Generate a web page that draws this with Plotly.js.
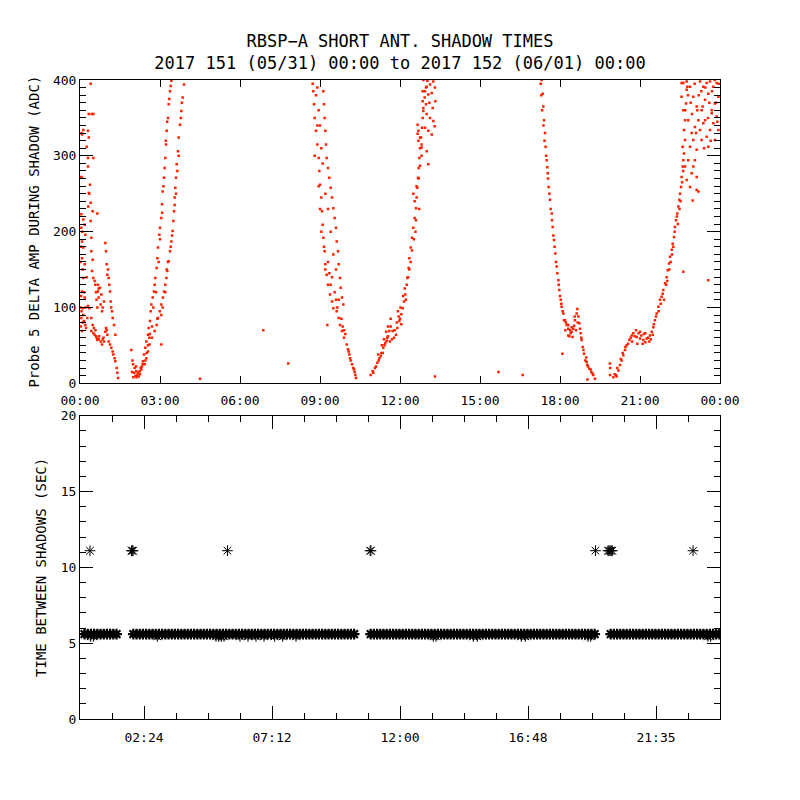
<!DOCTYPE html>
<html>
<head>
<meta charset="utf-8">
<script src="https://cdn.plot.ly/plotly-3.0.1.min.js"></script>
<style>html,body{margin:0;padding:0;background:#fff;}#chart{width:800px;height:800px;}</style>
</head>
<body>
<div id="chart"></div>
<script>
// ---- Top panel: Probe 5 delta amplitude during shadow, [hour of day, ADC] ----
const pass1 = [[0.4,395],[0.33,355],[0.5,355],[0.3,333],[0.33,324],[0.075,328],[0.3,297],[0.5,297],[0.3,286],[0.075,271],[0.375,262],[0.33,251],[0.4,238],[0.475,227],[0.65,224],[0.05,223],[0.125,216],[0.175,209],[0.4,214],[0.05,205],[0.2,196],[0.075,187],[0.125,179],[0.425,192],[0.425,174],[0.075,165],[0.175,157],[0.1,150],[0.475,163],[0.45,148],[0.5,139],[0.575,130],[0.675,121],[0.7,113],[0.8,117],[0.775,104],[0.825,95],[0.95,185],[0.975,174],[1.0,157],[1.025,143],[1.075,139],[1.125,121],[1.15,108],[1.2,95],[1.225,86],[1.275,77],[1.325,64],[0.125,139],[0.075,121],[0.175,113],[0.1,99],[0.05,86],[0.15,82],[0.2,77],[0.075,69],[0.225,73],[0.3,102],[0.35,99],[0.275,86],[0.55,64],[0.625,60],[0.7,58],[0.775,55],[0.85,58],[0.9,55],[0.825,51],[0.975,73],[1.025,64],[1.075,55],[1.125,51],[1.175,47],[1.225,42],[1.25,38],[1.3,33],[1.325,29],[1.375,20],[1.4,14],[1.425,7],[0.425,86],[0.475,77],[0.425,69],[0.675,130],[0.75,126],[0.125,334],[0.06,330],[0.04,272],[0.25,312],[0.44,355],[0.31,233],[0.35,250],[0.6,62],[0.65,57],[0.72,62],[0.5,66],[0.58,70],[0.52,73],[0.88,60],[0.95,68],[1.0,70],[0.6,120],[0.62,110],[0.7,125],[0.55,135],[0.85,100],[0.9,108],[0.65,100],[1.05,150],[1.1,130],[1.17,100],[0.02,100],[0.04,115],[0.06,95],[0.1,80],[0.03,75],[0.12,90],[0.15,120],[0.25,140],[0.2,100],[0.04,180],[0.08,200],[0.02,160]];
const pass2 = [[1.925,44],[1.99,25],[2.05,20],[2.11,16],[2.175,14],[2.24,16],[2.3,18],[2.025,14],[2.15,11],[2.275,20],[1.95,15],[2.0,8],[2.08,10],[2.12,8],[2.2,9],[2.25,12],[2.32,22],[2.35,25],[1.97,30],[2.1,22],[2.36,29],[2.4,38],[2.45,47],[2.49,55],[2.55,64],[2.575,73],[2.625,82],[2.65,95],[2.675,104],[2.725,113],[2.775,121],[2.8,130],[2.825,139],[2.875,152],[2.9,165],[2.925,179],[2.975,196],[3.0,205],[3.05,218],[3.075,236],[3.1,253],[3.15,271],[3.175,284],[3.2,297],[3.225,315],[3.25,333],[3.3,350],[3.325,368],[3.375,385],[3.425,399],[2.425,25],[2.49,33],[2.55,42],[2.61,51],[2.7,60],[2.8,69],[2.875,77],[2.925,86],[2.99,95],[3.05,104],[3.11,113],[3.15,121],[3.2,130],[3.24,139],[3.275,148],[3.325,161],[3.375,174],[3.425,187],[3.475,201],[3.5,214],[3.525,227],[3.55,245],[3.575,258],[3.6,271],[3.625,289],[3.675,306],[3.7,324],[3.75,341],[3.8,359],[3.85,377],[3.9,394],[2.5,40],[2.6,60],[2.7,75],[2.75,100],[2.85,120],[2.95,160],[3.0,190],[3.08,225],[3.13,260],[3.22,320],[3.27,345],[3.35,375],[3.4,392],[3.05,90],[3.1,100],[3.2,120],[3.25,150],[3.3,160],[3.4,180],[3.45,195],[3.55,235],[3.6,250],[3.65,280],[3.7,300],[3.78,350],[3.82,370],[2.55,50],[2.62,65],[2.9,85],[2.45,30]];
const pass3 = [[8.725,395],[8.75,385],[8.775,368],[8.8,350],[8.85,333],[8.9,315],[8.95,297],[8.975,280],[9.0,262],[9.05,245],[9.075,227],[9.1,209],[9.125,192],[9.175,174],[9.2,157],[9.25,143],[9.3,130],[9.375,117],[9.45,108],[9.5,99],[9.625,95],[9.7,86],[9.75,77],[9.825,69],[9.9,60],[10.0,51],[10.075,42],[10.125,33],[10.2,25],[10.275,18],[10.325,11],[10.35,7],[9.125,385],[9.15,368],[9.175,350],[9.2,333],[9.225,315],[9.25,297],[9.3,284],[9.35,271],[9.4,258],[9.45,245],[9.5,231],[9.55,218],[9.6,205],[9.625,187],[9.675,174],[9.7,157],[9.75,139],[9.775,126],[9.825,113],[9.875,104],[8.8,300],[8.9,340],[8.85,380],[8.95,260],[9.0,230],[9.05,200],[9.15,180],[9.2,150],[9.3,160],[9.35,145],[9.4,130],[9.45,140],[9.55,120],[9.6,110],[9.65,100],[9.8,85],[9.85,75],[9.95,65],[10.05,45],[10.15,30],[10.25,20],[10.3,15],[10.1,38],[9.9,70],[9.7,110],[9.6,150],[9.5,170],[9.4,200],[9.3,230],[9.2,250],[9.1,290],[9.05,310],[9.0,340],[8.95,360],[8.9,390]];
const pass4 = [[10.9,11],[10.975,16],[11.06,20],[11.15,27],[11.225,33],[11.3,40],[11.375,47],[11.45,53],[11.525,60],[11.6,69],[11.65,75],[11.725,69],[11.775,60],[11.85,64],[11.9,73],[11.975,82],[12.05,91],[12.1,99],[12.15,108],[12.2,117],[12.25,130],[12.275,139],[12.325,152],[12.35,165],[12.4,179],[12.45,192],[12.5,205],[12.55,218],[12.6,231],[12.625,245],[12.65,258],[12.675,271],[12.7,284],[12.725,297],[12.75,310],[12.79,324],[12.825,337],[12.85,350],[12.875,363],[12.925,377],[12.975,390],[13.025,399],[11.0,14],[11.1,22],[11.2,30],[11.28,36],[11.35,40],[11.42,50],[11.5,56],[11.55,62],[11.62,55],[11.7,58],[11.8,70],[11.88,80],[11.95,88],[12.0,85],[12.05,78],[11.92,95],[12.02,100],[12.12,115],[12.18,125],[12.22,110],[11.55,75],[11.48,68],[11.65,85],[11.4,58],[11.32,50],[11.18,38],[12.66,341],[12.69,333],[12.75,324],[12.81,315],[12.85,385],[12.875,400],[13.0,391],[13.125,394],[13.25,398],[12.94,385],[13.06,381],[13.19,383],[13.31,390],[12.85,372],[12.975,368],[13.1,370],[13.225,363],[13.325,372],[12.875,359],[13.0,355],[13.125,350],[13.25,346],[13.3,339],[12.94,337],[13.06,333],[13.19,328],[12.66,329],[12.69,320],[12.81,311],[13.0,306],[13.06,289],[12.75,287],[12.81,300],[12.5,250],[12.55,240],[12.6,215],[12.58,200],[12.52,190],[12.62,260],[12.7,270],[12.72,230],[12.45,175],[12.4,160],[12.35,150],[12.3,140]];
const pass5 = [[17.31,400],[17.35,382],[17.375,365],[17.4,347],[17.44,330],[17.46,312],[17.5,294],[17.54,277],[17.575,259],[17.625,242],[17.69,224],[17.725,206],[17.775,189],[17.825,171],[17.875,154],[17.94,136],[17.975,123],[18.025,110],[18.06,101],[18.125,92],[18.19,83],[18.25,77],[18.31,72],[18.375,70],[18.44,68],[18.5,72],[18.56,83],[18.625,92],[18.69,88],[18.725,79],[18.775,66],[18.81,57],[18.85,48],[18.9,39],[18.95,30],[19.025,24],[19.1,19],[19.175,15],[19.25,11],[19.31,6],[18.15,83],[18.22,80],[18.31,77],[18.4,66],[18.47,61],[18.31,63],[18.6,70],[18.66,80],[18.75,72],[18.53,76],[18.44,74],[18.1,95],[18.05,105],[18.0,115],[17.95,130],[17.9,145],[17.85,160],[17.8,180],[17.75,195],[17.7,215],[17.65,230],[17.6,250],[17.55,270],[17.52,285],[17.48,300],[17.42,320],[17.38,340],[17.33,360],[17.3,380],[17.28,395],[18.2,70],[18.35,62],[18.55,88],[18.65,98],[18.8,60],[18.88,44],[19.0,28],[19.15,18],[19.22,13],[19.05,22],[18.98,34],[19.03,5]];
const pass6 = [[19.875,11],[20.0,8],[20.1,11],[20.19,17],[20.25,24],[20.31,30],[20.375,37],[20.44,44],[20.5,50],[20.6,57],[20.69,63],[20.75,66],[20.875,61],[21.0,59],[21.125,57],[21.25,59],[21.375,63],[21.44,68],[21.5,74],[21.56,83],[21.625,92],[21.69,101],[21.75,110],[21.81,114],[21.875,123],[21.94,132],[22.0,140],[22.04,149],[22.09,158],[22.125,167],[22.19,176],[22.225,184],[22.275,193],[22.31,206],[22.35,215],[22.4,224],[22.44,233],[22.475,242],[22.5,250],[22.54,259],[22.56,272],[22.6,286],[22.625,294],[22.65,303],[22.6,312],[22.69,321],[22.65,334],[22.69,347],[22.625,360],[22.725,369],[22.56,378],[22.75,387],[22.625,396],[22.775,391],[19.87,26],[19.88,20],[20.7,55],[20.8,62],[20.9,52],[20.95,66],[21.05,63],[21.1,52],[21.15,65],[21.2,54],[21.3,60],[21.35,55],[20.85,70],[21.0,68],[21.2,66],[21.4,58],[20.65,60],[20.55,52],[20.45,48],[20.35,40],[20.28,32],[20.15,20],[20.05,12],[20.12,9],[21.48,64],[21.52,78],[21.6,88],[21.7,95],[21.78,105],[21.85,118],[21.9,110],[21.98,130],[22.02,135],[22.1,150],[22.15,160],[22.2,170],[22.25,180],[22.3,200],[22.38,220],[22.42,210],[22.48,230],[22.52,240],[22.58,265],[22.62,280],[22.56,396],[22.75,398],[22.875,391],[23.0,378],[23.125,365],[23.25,398],[23.375,391],[23.5,396],[23.625,398],[23.75,391],[23.875,396],[23.94,378],[23.81,369],[23.69,360],[23.56,382],[23.44,374],[23.31,360],[23.19,347],[23.06,338],[22.94,330],[22.81,347],[22.875,312],[23.0,321],[23.125,308],[23.25,334],[23.375,343],[23.5,325],[23.625,334],[23.75,343],[23.875,352],[23.56,312],[23.44,347],[23.06,294],[23.0,286],[23.125,272],[22.94,277],[22.81,294],[22.69,286],[22.75,268],[22.875,259],[23.125,255],[23.69,356],[23.81,321],[23.94,334],[23.31,321],[22.9,370],[23.05,395],[23.2,380],[23.35,365],[23.45,390],[23.6,370],[23.7,385],[23.85,370],[23.95,395],[22.95,355],[23.1,330],[23.4,310],[23.65,320],[23.9,345],[22.8,380],[22.7,360],[23.15,360],[23.3,385],[23.55,350],[23.8,400]];
const strays = [[3.05,51],[4.5,6],[6.875,70],[7.81,26],[9.275,77],[13.31,9],[15.69,15],[16.6,11],[18.09,39],[22.625,147],[23.56,136],[22.975,241],[23.19,253]];

// ---- Bottom panel: time between shadows (sec) ----
const bandHours1 = [0.17,0.29,0.41,0.53,0.65,0.77,0.89,1.01,1.13,1.25,1.37];
const bandSec1   = [5.6,5.6,5.6,5.6,5.6,5.6,5.6,5.6,5.6,5.6,5.6];
const bandHours2 = [2.00,2.12,2.24,2.36,2.48,2.60,2.72,2.84,2.96,3.08,
                    3.20,3.32,3.44,3.56,3.68,3.80,3.92,4.04,4.16,4.28,
                    4.40,4.52,4.64,4.76,4.88,5.00,5.12,5.24,5.36,5.48,
                    5.60,5.72,5.84,5.96,6.08,6.20,6.32,6.44,6.56,6.68,
                    6.80,6.92,7.04,7.16,7.28,7.40,7.52,7.64,7.76,7.88,
                    8.00,8.12,8.24,8.36,8.48,8.60,8.72,8.84,8.96,9.08,
                    9.20,9.32,9.44,9.56,9.68,9.80,9.92,10.04,10.16,10.28];
const bandSec2   = [5.6,5.6,5.6,5.6,5.6,5.6,5.6,5.6,5.6,5.6,
                    5.6,5.6,5.6,5.6,5.6,5.6,5.6,5.6,5.6,5.6,
                    5.6,5.6,5.6,5.6,5.6,5.6,5.6,5.6,5.6,5.6,
                    5.6,5.6,5.6,5.6,5.6,5.6,5.6,5.6,5.6,5.6,
                    5.6,5.6,5.6,5.6,5.6,5.6,5.6,5.6,5.6,5.6,
                    5.6,5.6,5.6,5.6,5.6,5.6,5.6,5.6,5.6,5.6,
                    5.6,5.6,5.6,5.6,5.6,5.6,5.6,5.6,5.6,5.6];
const bandHours3 = [10.90,11.02,11.14,11.26,11.38,11.50,11.62,11.74,11.86,11.98,
                    12.10,12.22,12.34,12.46,12.58,12.70,12.82,12.94,13.06,13.18,
                    13.30,13.42,13.54,13.66,13.78,13.90,14.02,14.14,14.26,14.38,
                    14.50,14.62,14.74,14.86,14.98,15.10,15.22,15.34,15.46,15.58,
                    15.70,15.82,15.94,16.06,16.18,16.30,16.42,16.54,16.66,16.78,
                    16.90,17.02,17.14,17.26,17.38,17.50,17.62,17.74,17.86,17.98,
                    18.10,18.22,18.34,18.46,18.58,18.70,18.82,18.94,19.06,19.18,
                    19.30];
const bandSec3   = [5.6,5.6,5.6,5.6,5.6,5.6,5.6,5.6,5.6,5.6,
                    5.6,5.6,5.6,5.6,5.6,5.6,5.6,5.6,5.6,5.6,
                    5.6,5.6,5.6,5.6,5.6,5.6,5.6,5.6,5.6,5.6,
                    5.6,5.6,5.6,5.6,5.6,5.6,5.6,5.6,5.6,5.6,
                    5.6,5.6,5.6,5.6,5.6,5.6,5.6,5.6,5.6,5.6,
                    5.6,5.6,5.6,5.6,5.6,5.6,5.6,5.6,5.6,5.6,
                    5.6,5.6,5.6,5.6,5.6,5.6,5.6,5.6,5.6,5.6,
                    5.6];
const bandHours4 = [19.90,20.02,20.14,20.26,20.38,20.50,20.62,20.74,20.86,20.98,
                    21.10,21.22,21.34,21.46,21.58,21.70,21.82,21.94,22.06,22.18,
                    22.30,22.42,22.54,22.66,22.78,22.90,23.02,23.14,23.26,23.38,
                    23.50,23.62,23.74,23.86,23.98];
const bandSec4   = [5.6,5.6,5.6,5.6,5.6,5.6,5.6,5.6,5.6,5.6,
                    5.6,5.6,5.6,5.6,5.6,5.6,5.6,5.6,5.6,5.6,
                    5.6,5.6,5.6,5.6,5.6,5.6,5.6,5.6,5.6,5.6,
                    5.6,5.6,5.6,5.6,5.6];
const lowHours = [0.4,0.5,2.9,5.1,5.2,5.3,5.4,6.0,6.3,6.6,6.9,7.3,7.6,8.1,13.25,13.35,14.75,14.9,16.55,16.7,19.05,19.15,23.55,23.65];
const lowSec   = [5.45,5.45,5.45,5.45,5.45,5.45,5.45,5.45,5.45,5.45,5.45,5.45,5.45,5.45,5.45,5.45,5.45,5.45,5.45,5.45,5.45,5.45,5.45,5.45];
const longHours = [0.375,1.93,1.96,1.99,5.53,10.88,10.91,19.33,19.8,19.84,19.88,19.92,19.96,22.99];
const longSec   = [11.1,11.1,11.1,11.1,11.1,11.1,11.1,11.1,11.1,11.1,11.1,11.1,11.1,11.1];

// ---- Tick labels ----
const topTickVals = [0,3,6,9,12,15,18,21,24];
const topTickText = ['00:00','03:00','06:00','09:00','12:00','15:00','18:00','21:00','00:00'];
const botTickVals = [2.4,7.2,12.0,16.8,21.6];
const botTickText = ['02:24','07:12','12:00','16:48','21:35'];

const allTop = pass1.concat(pass2, pass3, pass4, pass5, pass6, strays);
const RED = 'rgb(255,32,0)';
const FONT = 'DejaVu Sans Mono, monospace';

const star = {symbol:'asterisk-open', size:9, color:'black', line:{color:'black', width:1}};
const bandStar = {symbol:'asterisk-open', size:9, color:'black', line:{color:'black', width:2.2}};
const traces = [
  {type:'scatter', mode:'markers', xaxis:'x', yaxis:'y',
   x: allTop.map(p => p[0]), y: allTop.map(p => p[1]),
   marker:{symbol:'square', size:2.5, color:RED, line:{width:0}}, hoverinfo:'skip'},
  {type:'scatter', mode:'markers', xaxis:'x2', yaxis:'y2', x:bandHours1, y:bandSec1, marker:bandStar, hoverinfo:'skip'},
  {type:'scatter', mode:'markers', xaxis:'x2', yaxis:'y2', x:bandHours2, y:bandSec2, marker:bandStar, hoverinfo:'skip'},
  {type:'scatter', mode:'markers', xaxis:'x2', yaxis:'y2', x:bandHours3, y:bandSec3, marker:bandStar, hoverinfo:'skip'},
  {type:'scatter', mode:'markers', xaxis:'x2', yaxis:'y2', x:bandHours4, y:bandSec4, marker:bandStar, hoverinfo:'skip'},
  {type:'scatter', mode:'markers', xaxis:'x2', yaxis:'y2', x:lowHours, y:lowSec, marker:star, hoverinfo:'skip'},
  {type:'scatter', mode:'markers', xaxis:'x2', yaxis:'y2', x:longHours, y:longSec, marker:star, hoverinfo:'skip'}
];

const axCommon = {showline:true, linecolor:'black', linewidth:1, mirror:'allticks',
  ticks:'inside', tickcolor:'black', tickwidth:1, showgrid:false, zeroline:false,
  tickfont:{family:FONT, size:13, color:'black'}, fixedrange:true};

const layout = {
  width:800, height:800, paper_bgcolor:'white', plot_bgcolor:'white',
  margin:{l:80, r:80, t:80, b:81},
  showlegend:false,
  font:{family:FONT, size:13, color:'black'},
  title:{text:'RBSP\u2212A SHORT ANT. SHADOW TIMES<br>2017 151 (05/31) 00:00 to 2017 152 (06/01) 00:00',
         font:{family:FONT, size:17, color:'black'}, x:0.5, xanchor:'center', xref:'paper',
         y:1-47/800, yref:'container', yanchor:'middle'},
  xaxis: Object.assign({}, axCommon, {anchor:'y', domain:[0,1], range:[0,24],
    tickmode:'array', tickvals:topTickVals, ticktext:topTickText, ticklen:7, ticklabelstandoff:5}),
  yaxis: Object.assign({}, axCommon, {anchor:'x', domain:[0.5254,1], range:[0,400],
    tickmode:'linear', tick0:0, dtick:100, ticklen:13,
    minor:{dtick:10, tick0:0, ticklen:6, ticks:'inside', tickcolor:'black', showgrid:false},
    title:{text:'Probe 5 DELTA AMP DURING SHADOW (ADC)', font:{family:FONT, size:14, color:'black'}, standoff:10}}),
  xaxis2: Object.assign({}, axCommon, {anchor:'y2', domain:[0,1], range:[0,24],
    tickmode:'array', tickvals:botTickVals, ticktext:botTickText, ticklen:13, ticklabelstandoff:6,
    minor:{tickmode:'linear', dtick:1.2, tick0:0, ticklen:6, ticks:'inside', tickcolor:'black', showgrid:false}}),
  yaxis2: Object.assign({}, axCommon, {anchor:'x2', domain:[0,0.4745], range:[0,20],
    tickmode:'linear', tick0:0, dtick:5, ticklen:13,
    minor:{dtick:1, tick0:0, ticklen:6, ticks:'inside', tickcolor:'black', showgrid:false},
    title:{text:'TIME BETWEEN SHADOWS (SEC)', font:{family:FONT, size:14, color:'black'}, standoff:10}})
};

Plotly.newPlot('chart', traces, layout, {displayModeBar:false, staticPlot:true});
</script>
</body>
</html>
